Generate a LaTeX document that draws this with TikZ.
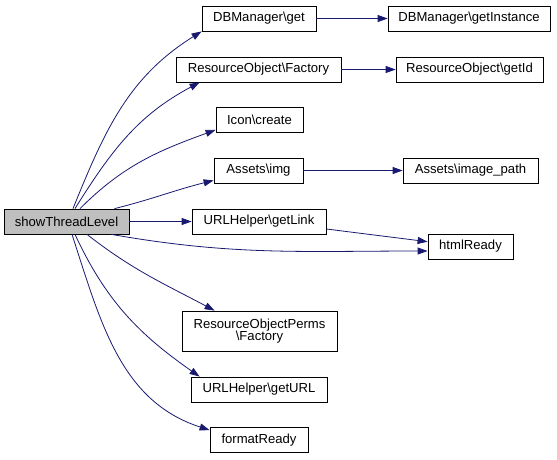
\documentclass[tikz,border=0pt]{standalone}
\usepackage{fontspec}
\setmainfont{Liberation Sans}
\usetikzlibrary{arrows.meta}

\begin{document}
\begin{tikzpicture}[x=1pt,y=-1pt,
  fn/.style={draw=black,line width=0.8pt,fill=white,inner sep=2pt,
    minimum height=25pt,font=\fontsize{13.1}{14.5}\selectfont,align=center},
  call/.style={draw=navy,line width=0.8pt,-{Triangle[length=10pt,width=7pt]}}]
\definecolor{navy}{RGB}{25,25,112}
\useasboundingbox (0,0) rectangle (557,459);
% The function whose calls are shown
\node[fn,fill=black!25,minimum width=125pt] (main) at (66.5,221.5) {showThreadLevel};
% Called functions
\node[fn,minimum width=114pt] (dbget) at (259,18.5) {DBManager\textbackslash get};
\node[fn,minimum width=162pt] (dbinst) at (469,18.5) {DBManager\textbackslash getInstance};
\node[fn,minimum width=165pt] (rofact) at (258.5,69.5) {ResourceObject\textbackslash Factory};
\node[fn,minimum width=147pt] (roid) at (469.5,69.5) {ResourceObject\textbackslash getId};
\node[fn,minimum width=87pt] (icon) at (259.5,120) {Icon\textbackslash create};
\node[fn,minimum width=89pt] (img) at (258.5,170.5) {Assets\textbackslash img};
\node[fn,minimum width=135pt] (imgpath) at (470.5,170.5) {Assets\textbackslash image\_path};
\node[fn,minimum width=134pt] (getlink) at (259,221.5) {URLHelper\textbackslash getLink};
\node[fn,minimum width=85pt] (html) at (470.5,246.5) {htmlReady};
\node[fn,minimum width=155pt,minimum height=40pt] (ropf) at (259.5,331)
  {ResourceObjectPerms\\[-2pt]\textbackslash Factory};
\node[fn,minimum width=136pt] (geturl) at (259,389.5) {URLHelper\textbackslash getURL};
\node[fn,minimum width=98pt] (fmt) at (259,440) {formatReady};
% Upper calls
\draw[call] ([xshift=6.5]main.north) to[out=68,in=212] (dbget.south west);
\draw[call] ([xshift=8.5]main.north) to[out=58,in=208] ([xshift=24]rofact.south west);
\draw[call] ([xshift=13.5]main.north) to[out=45,in=200] ([yshift=3]icon.south west);
\draw[call] ([xshift=48]main.north) to[out=14,in=194] ([yshift=3]img.south west);
\draw[call] (main.east) -- (getlink.west);
\draw[call] ([xshift=45]main.south) to[out=-10,in=180] ([yshift=-4.5]html.west);
% Lower calls
\draw[call] ([xshift=20.5]main.south) to[out=-38,in=152] ([xshift=33]ropf.north west);
\draw[call] ([xshift=8.5]main.south) to[out=-65,in=145] ([xshift=9]geturl.north west);
\draw[call] ([xshift=5.5]main.south) to[out=-72,in=162] ([yshift=-3]fmt.north west);
% Second level calls
\draw[call] (dbget.east) -- (dbinst.west);
\draw[call] (rofact.east) -- (roid.west);
\draw[call] (img.east) -- (imgpath.west);
\draw[call] ([yshift=-7.5]getlink.east) -- ([yshift=4.8]html.west);
\end{tikzpicture}
\end{document}
